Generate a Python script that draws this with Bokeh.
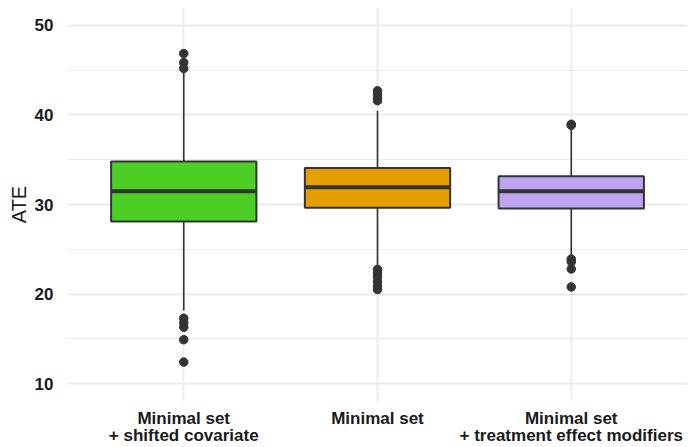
from bokeh.plotting import figure
from bokeh.models import Range1d, FactorRange, FixedTicker, ColumnDataSource
from bokeh.embed import file_html
from bokeh.resources import INLINE

# ---- data ----
categories = ["Minimal set\n+ shifted covariate", "Minimal set",
              "Minimal set\n+ treatment effect modifiers"]
q1 = [28.10, 29.63, 29.56]
median = [31.48, 31.93, 31.48]
q3 = [34.80, 34.07, 33.15]
lower_whisker = [18.15, 23.10, 24.20]
upper_whisker = [44.85, 40.48, 38.40]
outliers_shifted = [46.85, 45.85, 45.20, 17.30, 16.80, 16.30, 14.90, 12.40]
outliers_minimal = [42.70, 42.30, 41.90, 41.60, 22.75, 22.30, 21.90, 21.40, 20.90, 20.50]
outliers_modifiers = [38.95, 38.85, 23.90, 23.60, 22.80, 20.80]
box_colors = ["#4CCF25", "#E69F00", "#BBA5F0"]
y_ticks = [10, 20, 30, 40, 50]
y_minor = [15, 25, 35, 45]

src = ColumnDataSource(dict(cat=categories, q1=q1, med=median, q3=q3,
                            lo=lower_whisker, hi=upper_whisker, color=box_colors))
ox, oy = [], []
for c, vals in zip(categories, [outliers_shifted, outliers_minimal, outliers_modifiers]):
    ox += [c] * len(vals)
    oy += vals

p = figure(x_range=FactorRange(factors=categories, range_padding=0.1,
                               range_padding_units="absolute"),
           y_range=Range1d(8, 52),
           width=694, height=447, output_backend="svg", toolbar_location=None,
           min_border_left=67, min_border_right=7, min_border_top=7,
           min_border_bottom=44)
p.outline_line_color = None
p.background_fill_color = "white"
p.border_fill_color = "white"

FONT = "Liberation Sans"
p.yaxis.ticker = FixedTicker(ticks=y_ticks, minor_ticks=y_minor)
p.yaxis.axis_label = "ATE"
for ax in (p.xaxis, p.yaxis):
    ax.axis_line_color = None
    ax.major_tick_line_color = None
    ax.minor_tick_line_color = None
    ax.major_tick_out = 0
    ax.major_tick_in = 0
    ax.major_label_text_font = FONT
    ax.major_label_text_font_style = "bold"
    ax.major_label_text_font_size = "17px"
    ax.major_label_text_color = "#1A1A1A"
p.yaxis.major_label_standoff = 10
p.yaxis.axis_label_text_font = FONT
p.yaxis.axis_label_text_font_style = "normal"
p.yaxis.axis_label_text_font_size = "20px"
p.yaxis.axis_label_text_color = "#1A1A1A"
p.yaxis.axis_label_standoff = 2
p.xaxis.major_label_standoff = 7
p.xaxis.major_label_text_line_height = 0.92

p.xgrid.grid_line_color = "#EBEBEB"
p.xgrid.grid_line_width = 1.8
p.ygrid.grid_line_color = "#EBEBEB"
p.ygrid.grid_line_width = 1.8
p.ygrid.minor_grid_line_color = "#EBEBEB"
p.ygrid.minor_grid_line_width = 1.0

p.segment(x0="cat", y0="q3", x1="cat", y1="hi", source=src,
          line_color="#333333", line_width=1.6)
p.segment(x0="cat", y0="q1", x1="cat", y1="lo", source=src,
          line_color="#333333", line_width=1.6)
p.vbar(x="cat", width=0.75, bottom="q1", top="q3", source=src,
       fill_color="color", line_color="#333333", line_width=2)
p.rect(x="cat", y="med", width=0.75, height=4, height_units="screen",
       source=src, fill_color="#333333", line_color=None)
p.scatter(x=ox, y=oy, size=8.5, color="#333333")

open("out.html", "w").write(file_html(p, INLINE))
